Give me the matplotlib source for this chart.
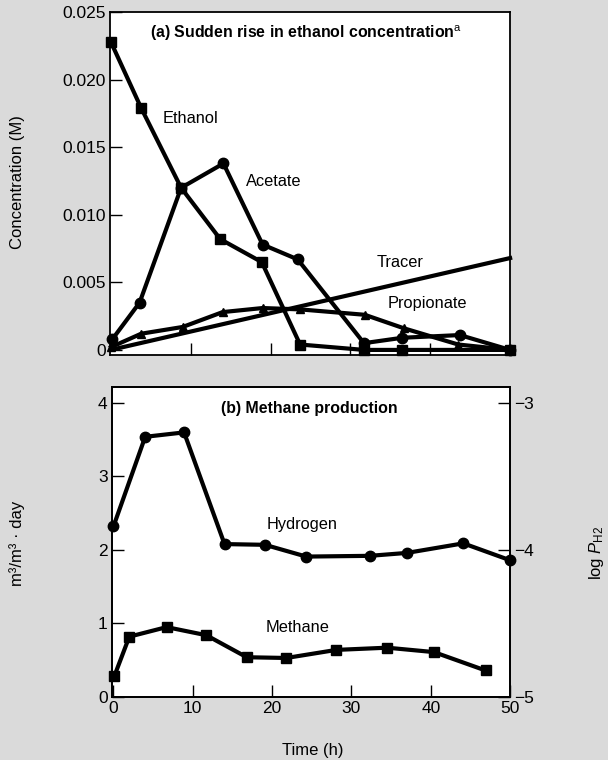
import matplotlib
matplotlib.use('Agg')
import matplotlib.pyplot as plt

plt.rcParams['font.family'] = ['Liberation Sans', 'DejaVu Sans']
plt.rcParams['mathtext.fontset'] = 'custom'
plt.rcParams['mathtext.rm'] = 'Liberation Sans'
plt.rcParams['mathtext.it'] = 'Liberation Sans:italic'

# (a) concentrations after the ethanol pulse, M
ethanol_t = [0, 3.8, 8.8, 13.7, 18.9, 23.7, 31.7, 36.5, 50]
ethanol_c = [0.0228, 0.0179, 0.0120, 0.0082, 0.0065, 0.0004, 0.0, 0.0, 0.0]
acetate_t = [0.2, 3.6, 8.8, 14.1, 19.0, 23.4, 31.7, 36.5, 43.7, 50]
acetate_c = [0.0008, 0.0035, 0.0120, 0.0138, 0.0078, 0.0067, 0.0005, 0.0009, 0.0011, 0.0]
propionate_t = [0, 3.8, 9.0, 14.0, 19.0, 23.7, 31.8, 36.7, 43.5, 50]
propionate_c = [0.0002, 0.0012, 0.0017, 0.0028, 0.0031, 0.0030, 0.0026, 0.0016, 0.0004, 0.0]
tracer_t = [0, 50]
tracer_c = [0.0, 0.0068]

# (b) gas production
hydrogen_t = [0, 4.0, 8.9, 14.0, 19.1, 24.3, 32.3, 37.0, 44.1, 50]
hydrogen_logp = [-3.84, -3.23, -3.20, -3.96, -3.965, -4.045, -4.04, -4.02, -3.955, -4.07]
methane_t = [0.1, 2.0, 6.7, 11.7, 16.8, 21.8, 28.1, 34.5, 40.4, 46.9]
methane_rate = [0.28, 0.82, 0.95, 0.84, 0.54, 0.53, 0.64, 0.67, 0.61, 0.36]

conc_ticks = [0, 0.005, 0.010, 0.015, 0.020, 0.025]
conc_labels = ['0', '0.005', '0.010', '0.015', '0.020', '0.025']

bg = '#dadada'
W, H = 608, 760
fig = plt.figure(figsize=(W / 100, H / 100), dpi=100, facecolor=bg)
ax1 = fig.add_axes([0.181, 0.533, 0.658, 0.451])
ax2 = fig.add_axes([0.184, 0.083, 0.655, 0.408])

line_kw = dict(color='black', lw=3.0, clip_on=False, zorder=3)
tick_kw = dict(direction='in', length=8.5, width=1.0, labelsize=12.5, pad=3)

for ax in (ax1, ax2):
    for s in ax.spines.values():
        s.set_linewidth(1.3)
    ax.tick_params(**tick_kw)

# top panel
ax1.plot(ethanol_t, ethanol_c, marker='s', ms=6.5, **line_kw)
ax1.plot(acetate_t, acetate_c, marker='o', ms=7.5, **line_kw)
ax1.plot(propionate_t, propionate_c, marker='^', ms=6, **line_kw)
ax1.plot(tracer_t, tracer_c, **line_kw)
ax1.set_xlim(-0.1, 50)
ax1.set_ylim(-0.00037, 0.025)
ax1.set_xticks([10, 20, 30, 40])
ax1.set_xticklabels([])
ax1.set_yticks(conc_ticks)
ax1.set_yticklabels(conc_labels)
ax1.text(0.49, 0.939, '(a) Sudden rise in ethanol concentration$^{\\mathrm{a}}$',
         transform=ax1.transAxes, ha='center', va='center', fontsize=11.4, fontweight='bold')
ax1.text(10.0, 0.01716, 'Ethanol', ha='center', va='center', fontsize=11.8)
ax1.text(20.4, 0.01243, 'Acetate', ha='center', va='center', fontsize=11.8)
ax1.text(36.2, 0.0065, 'Tracer', ha='center', va='center', fontsize=11.8)
ax1.text(39.6, 0.0034, 'Propionate', ha='center', va='center', fontsize=11.8)

# bottom panel, hydrogen on the right-hand log scale
ax2.plot(methane_t, methane_rate, marker='s', ms=6.5, **line_kw)
ax2.set_xlim(-0.2, 50)
ax2.set_ylim(0, 4.22)
ax2.set_xticks([0, 10, 20, 30, 40, 50])
ax2.set_yticks([0, 1, 2, 3, 4])

ax3 = ax2.twinx()
ax3.plot(hydrogen_t, hydrogen_logp, marker='o', ms=7.5, **line_kw)
ax3.set_ylim(-5, -5 + 4.22 / 2)
ax3.set_yticks([-5, -4, -3])
ax3.set_yticklabels(['\u22125', '\u22124', '\u22123'])
ax3.tick_params(**tick_kw)
for s in ax3.spines.values():
    s.set_linewidth(1.3)

ax2.text(23.8, 2.35, 'Hydrogen', ha='center', va='center', fontsize=11.8)
ax2.text(23.2, 0.95, 'Methane', ha='center', va='center', fontsize=11.8)
ax2.text(0.497, 0.929, '(b) Methane production', transform=ax2.transAxes,
         ha='center', va='center', fontsize=11.4, fontweight='bold')

# axis titles placed in figure pixels
fig.text(18 / W, 1 - 182 / H, 'Concentration (M)', rotation=90,
         ha='center', va='center', fontsize=12)
fig.text(17 / W, 1 - 543 / H, 'm³/m³ · day', rotation=90,
         ha='center', va='center', fontsize=12)
fig.text(597 / W, 1 - 553 / H, 'log $\\mathit{P}_{\\mathrm{H2}}$', rotation=90,
         ha='center', va='center', fontsize=12)
fig.text(313 / W, 1 - 750 / H, 'Time (h)', ha='center', va='center', fontsize=12)

fig.savefig('out.png', dpi=100, facecolor=bg)
